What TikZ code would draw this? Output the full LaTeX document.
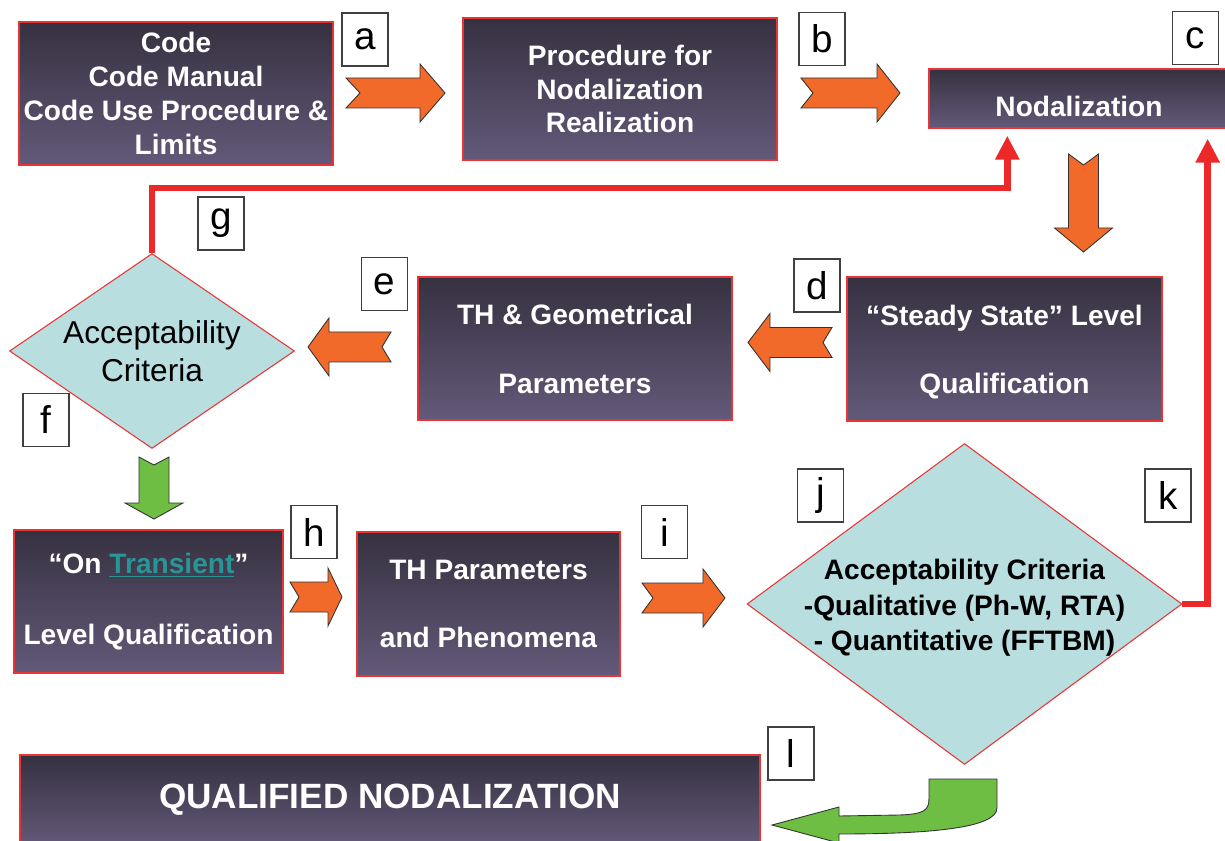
\documentclass[tikz,border=0pt]{standalone}
\usepackage{fontspec}
\setmainfont{Liberation Sans}
\usetikzlibrary{shapes}
\usetikzlibrary{arrows.meta}
\definecolor{boxtop}{RGB}{54,49,64}
\definecolor{boxbot}{RGB}{99,89,121}
\definecolor{boxred}{RGB}{232,52,52}
\definecolor{critfill}{RGB}{185,222,224}
\definecolor{arrorange}{RGB}{242,106,42}
\definecolor{arrgreen}{RGB}{110,190,68}
\definecolor{connred}{RGB}{236,40,40}
\definecolor{linkteal}{RGB}{40,150,150}
\tikzset{
    darkbox/.style = {rectangle, draw=boxred, line width=0.8pt, top color=boxtop, bottom color=boxbot, text=white, align=center, inner sep=0pt, font=\bfseries\fontsize{16}{19.3}\selectfont},
    critnode/.style = {diamond, draw=boxred, line width=0.6pt, fill=critfill, align=center, inner sep=0pt},
    letterbox/.style = {rectangle, draw=black!75, line width=0.6pt, fill=white, minimum width=0.92cm, minimum height=1.06cm, inner sep=0pt, font=\fontsize{22}{24}\selectfont},
    blockor/.style = {fill=arrorange, draw=black!80, line width=0.5pt, line join=miter},
    blockgr/.style = {fill=arrgreen, draw=black!80, line width=0.5pt},
    edgered/.style = {connred, line width=0.13cm, -{Triangle[length=0.48cm,width=0.46cm]}}
}
% notched block arrow: style, tail point, angle, length, head length, notch depth
\newcommand{\blockarrow}[6]{%
  \draw[#1,shift={(#2)},rotate=#3] (0,-15) -- (#4-#5,-15) -- (#4-#5,-29) -- (#4,0)
    -- (#4-#5,29) -- (#4-#5,15) -- (0,15) -- (#6,0) -- cycle;}

\begin{document}
\begin{tikzpicture}[x=0.02cm,y=-0.02cm]
\useasboundingbox (0,0) rectangle (1225,841);
%
\node[darkbox, minimum width=6.28cm, minimum height=2.86cm] at (176,93.5) (code) {Code\\Code Manual\\Code Use Procedure \&\\Limits};
\node[darkbox, minimum width=6.28cm, minimum height=2.84cm] at (620,89) (proc) {Procedure for\\Nodalization\\Realization};
\node[darkbox, minimum width=6.0cm, minimum height=1.18cm] at (1079,98.5) (nod) {\rule{0pt}{20.5pt}Nodalization};
\node[darkbox, minimum width=6.3cm, minimum height=2.88cm] at (1004.5,349) (steady) {\rule{0pt}{15pt}“Steady State” Level\\[19pt]Qualification};
\node[darkbox, minimum width=6.28cm, minimum height=2.86cm] at (575,348.5) (thgeo) {TH \& Geometrical\\[20pt]Parameters};
\node[critnode, aspect=1.46, minimum width=5.7cm, minimum height=3.9cm, font=\fontsize{18}{21.5}\selectfont] at (152,351) (accf) {Acceptability\\Criteria};
\node[darkbox, minimum width=5.38cm, minimum height=2.86cm] at (148.5,601.5) (trans) {“On \textcolor{linkteal}{\underline{Transient}}”\\[21pt]Level Qualification};
\node[darkbox, minimum width=5.26cm, minimum height=2.88cm] at (488.5,604) (thpar) {TH Parameters\\[19pt]and Phenomena};
\node[critnode, aspect=1.355, minimum width=8.7cm, minimum height=6.42cm, inner sep=-6pt, font=\bfseries\fontsize{16}{20.3}\selectfont] at (964.5,604) (accj) {\rule{0pt}{16pt}Acceptability Criteria\\-Qualitative (Ph-W, RTA)\\- Quantitative (FFTBM)};
\node[darkbox, minimum width=14.8cm, minimum height=1.8cm, font=\bfseries\fontsize{20}{24}\selectfont] at (390,800) (qual) {QUALIFIED NODALIZATION};
%
\node[letterbox] at (365,39.5) (la) {a};
\node[letterbox] at (822,39) (lb) {b};
\node[letterbox] at (1195.5,38) (lc) {c};
\node[letterbox] at (817,285.5) (ld) {d};
\node[letterbox] at (384.5,284) (le) {e};
\node[letterbox] at (46,420) (lf) {f};
\node[letterbox] at (221,223.5) (lg) {g};
\node[letterbox] at (314,532) (lh) {h};
\node[letterbox] at (664.5,532) (li) {i};
\node[letterbox] at (820.5,495.5) (lj) {j};
\node[letterbox] at (1168,495.5) (lk) {k};
\node[letterbox] at (791,753.5) (ll) {l};
%
\blockarrow{blockor}{346,93}{0}{99}{25}{14}
\blockarrow{blockor}{801,93}{0}{99}{23}{12}
\blockarrow{blockor}{1083.5,154}{-90}{98}{24}{11}
\blockarrow{blockor}{832,342.5}{180}{84}{22}{9}
\blockarrow{blockor}{391,347}{180}{83}{21}{9}
\blockarrow{blockgr}{154,457}{-90}{62}{16}{8}
\blockarrow{blockor}{290,597}{0}{52}{14}{9}
\blockarrow{blockor}{642,598}{0}{83}{22}{11}
%
\draw[blockgr] (929,779) -- (997,779) -- (997,808) .. controls (997,828) and (930,834) .. (839,834)
  -- (839,843) -- (772,825) -- (839,807) -- (839,816) -- (900,815)
  .. controls (925,814) and (929,810) .. (929,798) -- cycle;
%
\draw[edgered, shorten >=0.14cm] (accf.north) -- ++(0,-65) -| ([xshift=1.58cm]nod.south west);
\draw[edgered, shorten >=0.2cm] (accj.east) -| ([xshift=-0.44cm]nod.south east);
\end{tikzpicture}
\end{document}
